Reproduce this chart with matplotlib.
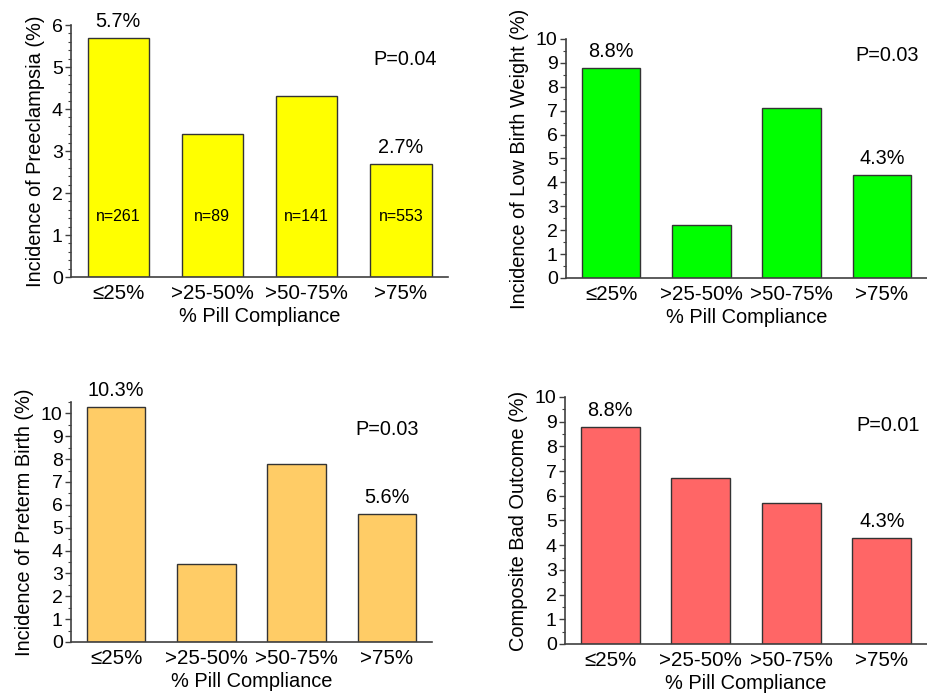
import matplotlib
matplotlib.use("Agg")
import matplotlib.pyplot as plt
from matplotlib.ticker import MultipleLocator

plt.rcParams['font.family'] = ['Liberation Sans', 'DejaVu Sans']

categories = ['≤25%', '>25-50%', '>50-75%', '>75%']

preeclampsia = [5.7, 3.4, 4.3, 2.7]
low_birth_weight = [8.8, 2.2, 7.1, 4.3]
preterm_birth = [10.3, 3.4, 7.8, 5.6]
composite_bad = [8.8, 6.7, 5.7, 4.3]

n_counts = ['n=261', 'n=89', 'n=141', 'n=553']

p_values = ['P=0.04', 'P=0.03', 'P=0.03', 'P=0.01']
y_labels = ['Incidence of Preeclampsia (%)', 'Incidence of Low Birth Weight (%)',
            'Incidence of Preterm Birth (%)', 'Composite Bad Outcome (%)']
colors = ['#FFFF00', '#00FF00', '#FFCC66', '#FF6666']

# panel setup: (values, axes rect, ylim, minor step, p-value position)
panels = [
    (preeclampsia, [0.0766, 0.6014, 0.4067, 0.3626], 6, 0.2, (3.04, 5.19)),
    (low_birth_weight, [0.6106, 0.600, 0.3894, 0.3439], 10, 0.5, (3.06, 9.33)),
    (preterm_birth, [0.0766, 0.0763, 0.3894, 0.3453], 10.5, 0.5, (3.0, 9.3)),
    (composite_bad, [0.6095, 0.0734, 0.3905, 0.3554], 10, 0.5, (3.07, 8.83)),
]

fig = plt.figure(figsize=(9.27, 6.95), dpi=100)

for i, (vals, rect, ytop, minor, ppos) in enumerate(panels):
    ax = fig.add_axes(rect)
    x = range(len(categories))
    ax.bar(x, vals, width=0.65, color=colors[i], edgecolor='#333333', linewidth=1.0, zorder=2)
    ax.set_xlim(-0.5, 3.5)
    ax.set_ylim(0, ytop)
    ax.yaxis.set_major_locator(MultipleLocator(1))
    ax.yaxis.set_minor_locator(MultipleLocator(minor))
    ax.set_xticks(list(x))
    ax.set_xticklabels(categories)
    ax.tick_params(axis='x', length=0, pad=5, labelsize=14.8)
    ax.tick_params(axis='y', which='major', length=4, width=1, labelsize=14, pad=2, color='#404040')
    ax.tick_params(axis='y', which='minor', length=2, width=0.8, color='#404040')
    for s in ['top', 'right']:
        ax.spines[s].set_visible(False)
    for s in ['left', 'bottom']:
        ax.spines[s].set_color('#404040')
        ax.spines[s].set_linewidth(1.2)
    ax.set_ylabel(y_labels[i], fontsize=14.4, labelpad=5)
    ax.set_xlabel('% Pill Compliance', fontsize=14.4, labelpad=3)

    # value labels on first and last bar
    for j in [0, 3]:
        ax.annotate(f'{vals[j]}%', (j, vals[j]), xytext=(0, 5), textcoords='offset points',
                    ha='center', va='bottom', fontsize=14.3, annotation_clip=False)
    ax.text(ppos[0], ppos[1], p_values[i], ha='center', va='center', fontsize=14.3)

    if i == 0:
        for j, n in enumerate(n_counts):
            ax.text(j, 1.43, n, ha='center', va='center', fontsize=11.5)

fig.savefig('out.png', dpi=100)
